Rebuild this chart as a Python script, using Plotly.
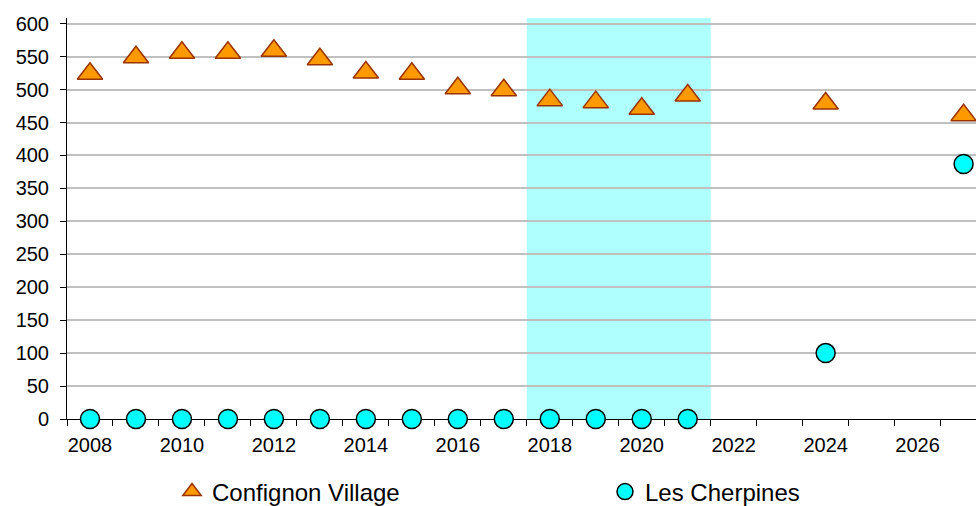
import plotly.graph_objects as go

years_village = [2008, 2009, 2010, 2011, 2012, 2013, 2014, 2015, 2016, 2017,
                 2018, 2019, 2020, 2021, 2024, 2027]
village = [524, 549, 556, 556, 559, 546, 526, 524, 502, 499,
           484, 481, 471, 491, 479, 461]

years_cherpines = [2008, 2009, 2010, 2011, 2012, 2013, 2014, 2015, 2016, 2017,
                   2018, 2019, 2020, 2021, 2024, 2027]
cherpines = [0, 0, 0, 0, 0, 0, 0, 0, 0, 0, 0, 0, 0, 0, 100, 387]

highlight_start = 2017.5
highlight_end = 2021.5

x_ticks = [2008, 2010, 2012, 2014, 2016, 2018, 2020, 2022, 2024, 2026]
y_ticks = list(range(0, 601, 50))

FONT = "Liberation Sans, Arial, sans-serif"

fig = go.Figure()

fig.add_trace(go.Scatter(
    x=years_village, y=village, mode="markers", name="Confignon Village",
    marker=dict(symbol="triangle-up", size=22, color="#FF9900",
                line=dict(color="#993300", width=1.5)),
    cliponaxis=False, legend="legend",
))
fig.add_trace(go.Scatter(
    x=years_cherpines, y=cherpines, mode="markers", name="Les Cherpines",
    marker=dict(symbol="circle", size=19, color="#00FFFF",
                line=dict(color="#000000", width=1.5)),
    cliponaxis=False, legend="legend2",
))

fig.add_shape(type="rect", xref="x", yref="paper",
              x0=highlight_start, x1=highlight_end, y0=0, y1=1,
              fillcolor="#AFFFFF", line=dict(width=0), layer="below")

fig.update_layout(
    width=976, height=506,
    margin=dict(l=67, r=0, t=18, b=87),
    paper_bgcolor="white", plot_bgcolor="white",
    font=dict(family=FONT, size=20, color="black"),
    legend=dict(orientation="h", xref="container", yref="container",
                x=172/976, y=1-492/506, xanchor="left", yanchor="middle",
                font=dict(size=24, family=FONT), bgcolor="rgba(0,0,0,0)"),
    legend2=dict(orientation="h", xref="container", yref="container",
                 x=605/976, y=1-492/506, xanchor="left", yanchor="middle",
                 font=dict(size=24, family=FONT), bgcolor="rgba(0,0,0,0)"),
    showlegend=True,
)

fig.update_xaxes(
    range=[2007.5, 2027.27],
    tickmode="array", tickvals=x_ticks, ticks="", showgrid=False,
    minor=dict(tickmode="linear", tick0=2007.5, dtick=1, ticks="outside",
               ticklen=6, tickcolor="black", tickwidth=1, showgrid=False),
    showline=True, linecolor="black", linewidth=1,
    zeroline=False, layer="below traces",
    tickfont=dict(size=20, family=FONT), ticklabelstandoff=8,
)
fig.update_yaxes(
    range=[0, 608.7],
    tickmode="array", tickvals=y_ticks, ticks="outside", ticklen=6,
    tickcolor="black", showgrid=True, gridcolor="#C0C0C0", gridwidth=2,
    showline=True, linecolor="black", linewidth=1, zeroline=False,
    layer="below traces",
    tickfont=dict(size=20, family=FONT), ticklabelstandoff=7,
)

fig.write_html(
    "out.html",
    config={"displayModeBar": False},
    post_script="document.body.style.margin='0';document.body.style.overflow='hidden';",
)
